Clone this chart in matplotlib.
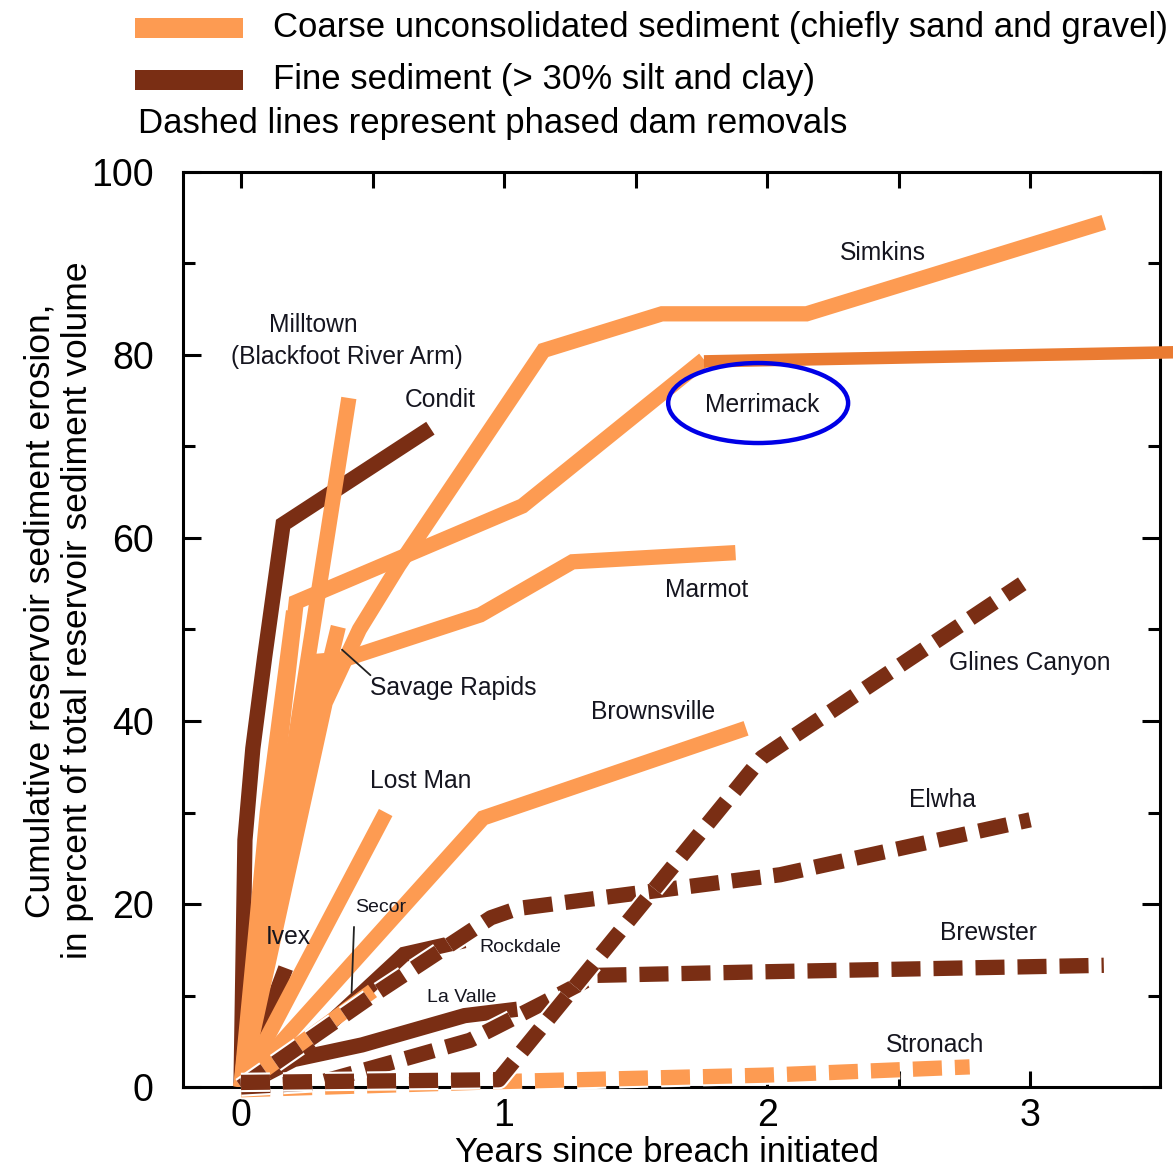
import matplotlib
matplotlib.use('Agg')
import matplotlib.pyplot as plt
import matplotlib.patheffects as pe
from matplotlib.lines import Line2D
from matplotlib.patches import Ellipse
from matplotlib.ticker import MultipleLocator, FuncFormatter

plt.rcParams['font.family'] = ['Liberation Sans', 'DejaVu Sans']

# coarse sediment, continuous removals
simkins_x = [0, 0.32, 0.45, 0.6, 1.15, 1.6, 2.15, 3.28]
simkins_y = [0, 42, 50, 57, 80.5, 84.5, 84.5, 94.5]
merrimack_x = [0, 0.21, 1.07, 1.76]
merrimack_y = [0, 53, 63.5, 79.5]
merrimack_ext_x = [1.76, 3.55]
merrimack_ext_y = [79.3, 80.3]
marmot_x = [0, 0.28, 0.4, 0.91, 1.26, 1.88]
marmot_y = [0, 46.5, 46.8, 51.6, 57.4, 58.4]
milltown_x = [0, 0.41]
milltown_y = [0, 75.3]
savage_x = [0, 0.3, 0.37]
savage_y = [0, 42, 50.3]
brownsville_x = [0, 0.92, 1.92]
brownsville_y = [0, 29.4, 39.2]
lostman_x = [0, 0.55]
lostman_y = [0, 30]
secor_x = [0, 0.5]
secor_y = [0, 10.5]
fan_x = [0, 0.1, 0.2]          # unlabelled lines filling the fan near the origin
fan_y = [0, 30, 52]
# coarse, phased
stronach_x = [0, 1, 2, 2.77]
stronach_y = [-0.3, 0.6, 1.3, 2.2]

# fine sediment, continuous
condit_x = [0, 0.015, 0.045, 0.09, 0.16, 0.72]
condit_y = [0, 27, 37, 47, 61.5, 72]
ivex_x = [0, 0.17]
ivex_y = [0, 13]
rockdale_x = [0, 0.2, 0.62, 0.85]
rockdale_y = [0, 3.3, 14.5, 16]
lavalle_x = [0, 0.2, 0.46, 0.85, 1.05]
lavalle_y = [0, 3, 4.6, 7.8, 8.5]
# fine, phased
elwha_x = [0, 0.5, 0.95, 1.05, 2.05, 3.0]
elwha_y = [0, 10, 18.5, 19.5, 23.2, 29.2]
glines_x = [0, 0.98, 1.98, 2.97]
glines_y = [0.5, 0.8, 36, 55]
brewster_x = [0, 0.3, 0.6, 0.87, 1.0, 1.15, 1.35, 2.0, 3.28]
brewster_y = [0, 0.5, 2.9, 5.1, 7, 9.2, 12.2, 12.6, 13.3]

labels = ['Milltown', '(Blackfoot River Arm)', 'Condit', 'Simkins', 'Merrimack',
          'Marmot', 'Savage Rapids', 'Brownsville', 'Glines Canyon', 'Lost Man',
          'Elwha', 'Ivex', 'Brewster', 'Stronach']
label_x = [0.274, 0.403, 0.757, 2.44, 1.98, 1.77, 0.806, 1.567, 3.0, 0.684,
           2.665, 0.18, 2.84, 2.64]
label_y = [83.3, 79.8, 75.1, 91.1, 74.5, 54.3, 43.6, 41.0, 46.3, 33.4,
           31.4, 16.4, 16.8, 4.6]
small_labels = ['Secor', 'Rockdale', 'La Valle']
small_x = [0.53, 1.06, 0.84]
small_y = [19.6, 15.2, 9.8]

ORANGE = '#FD9B52'
BROWN = '#7A2E14'
DARK_ORANGE = '#EA7B32'
TXT = '#15151f'
LW = 11

fig = plt.figure(figsize=(11.73, 11.74), dpi=100)
ax = fig.add_axes([0.156, 0.0741, 0.833, 0.7794])

def solid(x, y, c, z):
    ax.plot(x, y, color=c, lw=LW, solid_capstyle='butt', solid_joinstyle='miter',
            zorder=z, clip_on=False)

def dashed(x, y, c, z):
    ax.plot(x, y, color=c, lw=LW, dashes=(1.9, 0.85), dash_capstyle='butt',
            zorder=z, clip_on=False,
            path_effects=[pe.Stroke(linewidth=LW + 3, foreground='white'), pe.Normal()])

for xs, ys in [(condit_x, condit_y), (ivex_x, ivex_y), (rockdale_x, rockdale_y),
               (lavalle_x, lavalle_y)]:
    solid(xs, ys, BROWN, 2)

for xs, ys in [(fan_x, fan_y), (simkins_x, simkins_y), (merrimack_x, merrimack_y),
               (marmot_x, marmot_y), (savage_x, savage_y), (milltown_x, milltown_y),
               (brownsville_x, brownsville_y), (lostman_x, lostman_y), (secor_x, secor_y)]:
    solid(xs, ys, ORANGE, 3)

ax.plot(merrimack_ext_x, merrimack_ext_y, color=DARK_ORANGE, lw=9,
        solid_capstyle='butt', zorder=3, clip_on=False)

dashed(stronach_x, stronach_y, ORANGE, 3.5)
for xs, ys in [(elwha_x, elwha_y), (brewster_x, brewster_y), (glines_x, glines_y)]:
    dashed(xs, ys, BROWN, 4)

ax.add_patch(Ellipse((1.966, 74.75), 0.684, 8.74, fill=False, ec='#0000E6',
                     lw=3.2, zorder=6))

for t, x, y in zip(labels, label_x, label_y):
    ax.text(x, y, t, fontsize=17.7, color=TXT, ha='center', va='center', zorder=7)
for t, x, y in zip(small_labels, small_x, small_y):
    ax.text(x, y, t, fontsize=14, color=TXT, ha='center', va='center', zorder=7)

# leader lines
ax.annotate('', xy=(0.376, 48.0), xytext=(0.5, 44.8),
            arrowprops=dict(arrowstyle='-', color='#222222', lw=1.3), zorder=7)
ax.annotate('', xy=(0.42, 10.0), xytext=(0.43, 17.8),
            arrowprops=dict(arrowstyle='-', color='#222222', lw=1.3), zorder=7)

ax.set_xlim(-0.2205, 3.494)
ax.set_ylim(0, 100)
ax.xaxis.set_major_locator(MultipleLocator(0.5))
ax.xaxis.set_major_formatter(FuncFormatter(lambda v, p: '%d' % v if abs(v - round(v)) < 1e-6 else ''))
ax.yaxis.set_major_locator(MultipleLocator(20))
ax.yaxis.set_minor_locator(MultipleLocator(10))
ax.tick_params(axis='both', which='both', direction='in', top=True, right=True,
               width=2.2, colors='black')
ax.tick_params(axis='x', which='major', length=11.5, labelsize=27, pad=8)
ax.tick_params(axis='y', which='major', length=13, labelsize=27, pad=21)
ax.tick_params(axis='y', which='minor', length=8.5)
for s in ax.spines.values():
    s.set_linewidth(2.2)

fig.text(0.569, 0.018, 'Years since breach initiated', fontsize=25, ha='center', va='center')
fig.text(0.05, 0.48, 'Cumulative reservoir sediment erosion,\nin percent of total reservoir sediment volume',
         fontsize=25.5, rotation=90, ha='center', va='center', multialignment='center',
         linespacing=1.2)

# legend
fig.add_artist(Line2D([135 / 1173, 243 / 1173], [1 - 28 / 1174] * 2, color=ORANGE,
                      lw=14.4, solid_capstyle='butt'))
fig.add_artist(Line2D([135 / 1173, 243 / 1173], [1 - 80 / 1174] * 2, color=BROWN,
                      lw=14.4, solid_capstyle='butt'))
fig.text(273 / 1173, 1 - 28 / 1174, 'Coarse unconsolidated sediment (chiefly sand and gravel)',
         fontsize=25, ha='left', va='center')
fig.text(273 / 1173, 1 - 80 / 1174, 'Fine sediment (> 30% silt and clay)',
         fontsize=25, ha='left', va='center')
fig.text(138 / 1173, 1 - 123 / 1174, 'Dashed lines represent phased dam removals',
         fontsize=25, ha='left', va='center')

fig.savefig('out.png', dpi=100)
